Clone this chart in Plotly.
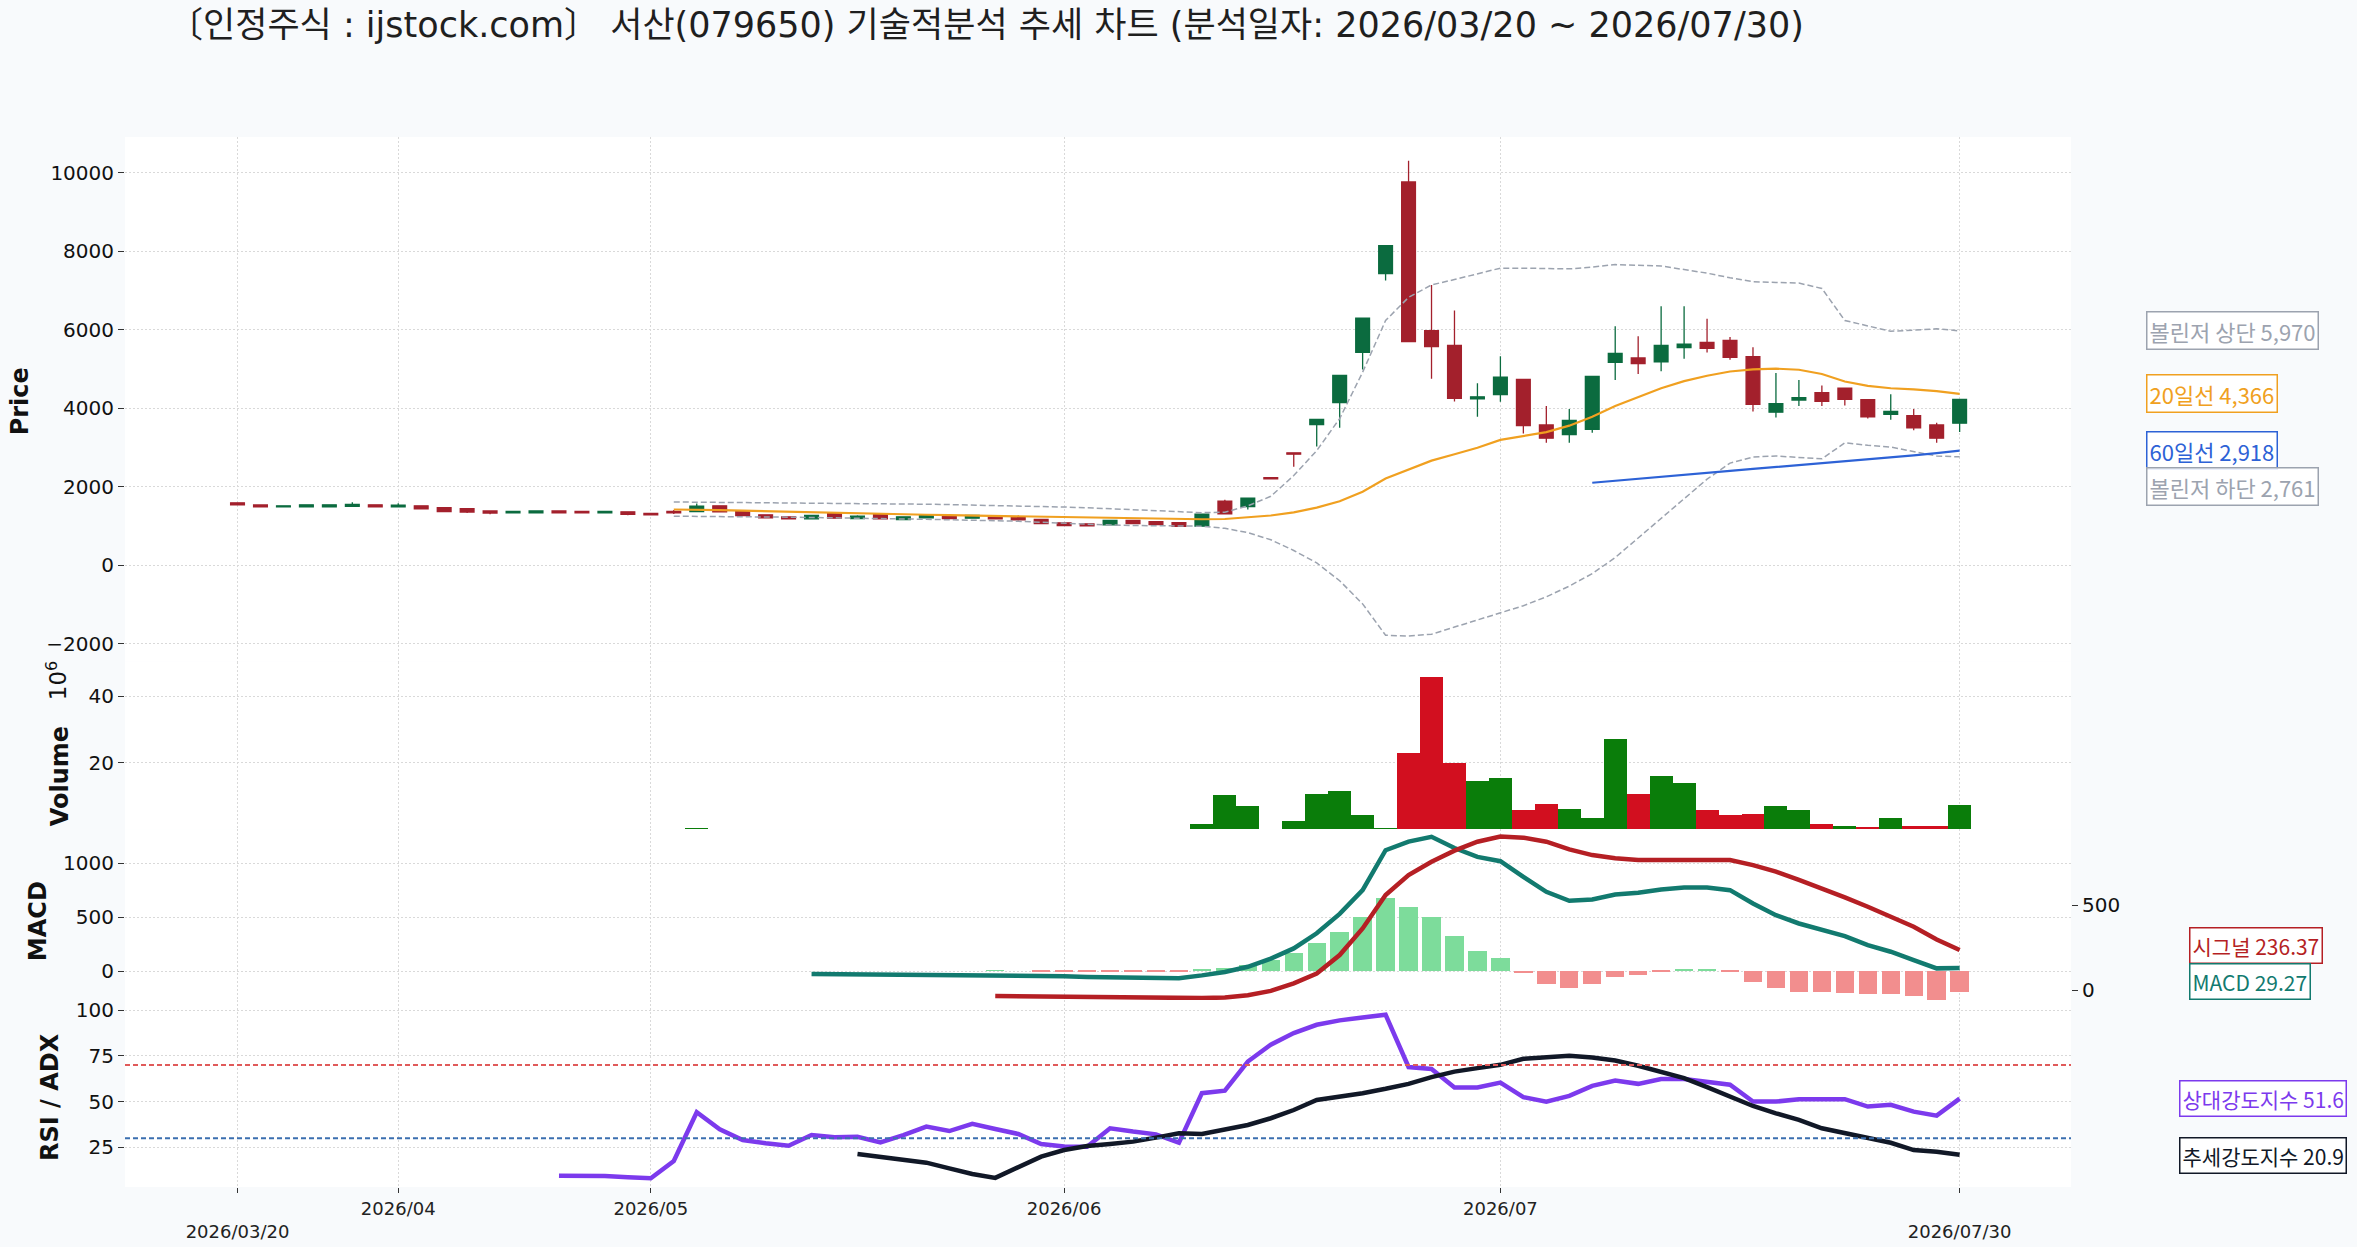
import plotly.graph_objects as go

# ---------------- data ----------------
tick_idx = [0, 7, 18, 36, 55, 75]
tick_text = ["<br>2026/03/20", "2026/04", "2026/05", "2026/06", "2026/07", "<br>2026/07/30"]

open_ = [1590,1535,1490,1490,1490,1500,1540,1490,1515,1465,
         1440,1385,1335,1335,1385,1370,1335,1360,1320,1372,
         1370,1515,1387,1285,1234,1183,1319,1191,1294,1166,
         1209,1242,1200,1251,1234,1166,1081,1055,1030,1140,
         1110,1085,996,1630,1494,2230,2865,3582,4145,5425,
         7431,9764,5978,5597,4236,4345,4735,3573,3328,3464,
         5171,5280,5180,5543,5679,5724,5316,3900,4208,4399,
         4508,4217,3845,3809,3573,3618]
high = [1600,1540,1520,1545,1545,1605,1545,1580,1520,1470,
        1445,1390,1372,1390,1390,1375,1372,1365,1325,1405,
        1575,1520,1392,1290,1240,1272,1325,1276,1300,1238,
        1272,1247,1272,1256,1268,1170,1086,1060,1145,1145,
        1115,1090,1315,1666,1715,2235,2870,3720,4840,6300,
        8140,10300,7140,6487,4635,5325,4740,4054,3981,4810,
        6087,5833,6595,6595,6278,5815,5552,4898,4717,4581,
        4512,4222,4354,3981,3627,4230]
low = [1535,1485,1485,1485,1485,1495,1485,1485,1435,1360,
       1330,1300,1330,1330,1330,1330,1330,1275,1265,1305,
       1365,1355,1265,1205,1180,1178,1195,1186,1178,1160,
       1204,1186,1195,1178,1132,1060,1008,1000,1025,1060,
       1028,985,990,1300,1422,2195,2510,3028,3500,4989,
       7250,5690,4753,4172,3782,4163,3355,3119,3119,3373,
       4717,4871,4944,5261,5416,5234,3918,3763,4054,4054,
       4072,3736,3709,3437,3119,3391]
close = [1540,1490,1515,1540,1540,1550,1490,1530,1440,1365,
         1355,1330,1370,1385,1335,1335,1370,1300,1285,1338,
         1505,1362,1268,1209,1183,1268,1200,1251,1183,1234,
         1268,1191,1268,1183,1157,1064,1013,1004,1140,1064,
         1035,992,1300,1310,1712,2200,2830,3718,4835,6296,
         8139,5697,5570,4254,4290,4789,3555,3237,3691,4807,
         5398,5134,5597,5633,5524,5298,4099,4117,4272,4172,
         4226,3782,3918,3500,3237,4226]
volume_m = [0.05,0.04,0.03,0.04,0.03,0.05,0.04,0.04,0.06,0.08,
            0.07,0.06,0.04,0.05,0.04,0.03,0.04,0.06,0.05,0.08,
            0.30,0.12,0.09,0.07,0.06,0.08,0.07,0.06,0.07,0.05,
            0.06,0.05,0.06,0.05,0.07,0.09,0.08,0.07,0.12,0.08,
            0.07,0.09,1.6,10.5,7.1,0.15,2.5,10.8,11.7,4.4,
            0.3,22.9,46.0,19.9,14.5,15.4,5.7,7.8,6.0,3.5,
            27.2,10.8,16.0,14.1,5.7,4.4,4.7,7.2,5.7,1.7,
            1.1,0.8,3.5,1.1,1.1,7.5]

ma20 = [None]*19 + [1420,1418,1405,1390,1375,1360,1346,1334,1322,1310,
                    1298,1287,1276,1266,1256,1246,1236,1225,1214,1205,
                    1196,1188,1178,1172,1178,1213,1267,1349,1467,1630,
                    1875,2211,2447,2665,2828,2992,3192,3300,3391,3555,
                    3782,4054,4281,4508,4690,4826,4935,4989,5007,4980,
                    4871,4680,4571,4508,4481,4435,4366]
bb_upper = [None]*19 + [1612,1608,1605,1602,1598,1594,1590,1584,1578,1572,
                        1565,1555,1545,1535,1525,1513,1500,1483,1465,1443,
                        1420,1393,1368,1340,1352,1512,1757,2284,2919,3736,
                        4917,6233,6823,7140,7277,7413,7567,7567,7549,7549,
                        7594,7658,7640,7622,7531,7440,7322,7222,7204,7186,
                        7050,6233,6096,5960,5988,6024,5970]
bb_lower = [None]*19 + [1250,1248,1245,1240,1233,1225,1218,1212,1205,1195,
                        1182,1170,1160,1150,1140,1122,1095,1068,1040,1025,
                        1013,1008,1000,995,940,831,650,377,60,-394,
                        -984,-1783,-1801,-1756,-1574,-1393,-1211,-1030,-803,-530,
                        -213,196,695,1194,1694,2193,2601,2756,2783,2738,
                        2710,3119,3055,3010,2892,2783,2761]
ma60 = [None]*59 + [2102,2155,2205,2256,2306,2356,2405,2453,2500,2548,
                    2596,2645,2695,2747,2800,2858,2918]

macd = [None]*25 + [-28,-30,-32,-33,-34,-35,-36,-35,-35,-37,
                    -42,-48,-54,-58,-62,-65,-66,-40,-8,40,
                    115,210,350,530,750,1120,1200,1244,1140,1058,
                    1018,873,734,651,663,710,725,756,775,775,
                    750,627,518,441,380,324,241,179,102,25,
                    29.27]
signal = [None]*33 + [-35,-37,-39,-41,-43,-45,-46,-47,-48,-47,
                      -44,-30,-5,40,98,207,364,561,679,758,
                      823,876,906,900,876,831,797,778,768,768,
                      772,772,768,738,699,650,600,547,492,433,
                      374,299,236.37]
hist = [None]*33 + [3,0,-2,-6,-8,-8,-3,-2,-6,9,
                    25,56,102,170,262,364,503,679,596,497,
                    324,185,123,-22,-123,-160,-123,-59,-34,-3,
                    15,15,-9,-99,-160,-191,-200,-207,-216,-216,
                    -231,-275,-200]
rsi = [None]*14 + [9.5,9.5,9.3,8.6,8.1,17.5,44.2,34.9,29.0,27.2,
                   25.9,31.7,30.5,30.8,27.7,31.7,36.3,33.9,37.8,35.0,
                   32.3,26.8,25.5,25.3,35.4,33.6,32.1,27.5,54.6,56.0,
                   71.9,81.1,87.5,92.0,94.4,96.0,97.5,68.9,67.8,57.7,
                   57.7,60.4,52.4,50.0,53.1,58.6,61.5,59.7,62.3,62.3,
                   61.0,59.2,50.0,50.0,51.3,51.0,51.3,47.3,48.2,44.5,
                   42.3,51.6]
adx = [None]*27 + [21.3,19.9,18.4,16.6,13.5,10.4,8.3,14.4,19.9,23.5,
                   25.7,26.8,28.1,30.3,32.7,32.3,34.5,37.2,40.9,45.4,
                   50.9,52.7,54.6,57.0,59.7,63.4,66.4,68.3,70.1,73.4,
                   74.3,75.0,74.1,72.5,69.6,66.4,62.8,57.9,52.7,47.6,
                   43.6,40.0,35.4,32.7,30.3,27.5,23.5,22.6,20.9]

rsi_levels = [70, 30]
title_text = "〔인정주식 : ijstock.com〕 서산(079650) 기술적분석 추세 차트 (분석일자: 2026/03/20 ~ 2026/07/30)"

# ---------------- styling / geometry ----------------
W, H = 2357, 1247
PL, PR, PT, PB = 125, 2071, 136.5, 1187

def px_x(x):
    return (x - PL) / (PR - PL)

def px_y(y):
    return (PB - y) / (PB - PT)

def dom(top, bot):
    return [px_y(bot), px_y(top)]

GREEN_C = "#0b6b3f"
RED_C = "#a3202c"
VOL_G = "rgba(10,125,10,0.999)"
VOL_R = "rgba(210,15,31,0.999)"
HIST_G = "#7ddc9b"
HIST_R = "#f28e8e"
C_MA20 = "#f0a020"
C_MA60 = "#2d62d6"
C_BB = "#9ca3af"
C_MACD = "#127a6f"
C_SIG = "#b51f24"
C_RSI = "#7c3aed"
C_ADX = "#111827"
FONT = "DejaVu Sans"
KFONT = "Noto Sans CJK KR"

x = list(range(len(close)))
vol_colors = [VOL_G if (i == 0 or close[i] >= close[i - 1]) else VOL_R for i in x]
hist_colors = [HIST_R if (h is not None and h < 0) else HIST_G for h in hist]

fig = go.Figure()
fig.add_trace(go.Candlestick(
    x=x, open=open_, high=high, low=low, close=close,
    increasing=dict(line=dict(color=GREEN_C, width=1.3), fillcolor=GREEN_C),
    decreasing=dict(line=dict(color=RED_C, width=1.3), fillcolor=RED_C),
    whiskerwidth=0, xaxis="x", yaxis="y", showlegend=False))
for arr in (bb_upper, bb_lower):
    fig.add_trace(go.Scatter(x=x, y=arr, mode="lines", xaxis="x", yaxis="y",
                             line=dict(color=C_BB, width=1.5, dash="6px,3px"), showlegend=False))
fig.add_trace(go.Scatter(x=x, y=ma20, mode="lines", xaxis="x", yaxis="y",
                         line=dict(color=C_MA20, width=2.2), showlegend=False))
fig.add_trace(go.Scatter(x=x, y=ma60, mode="lines", xaxis="x", yaxis="y",
                         line=dict(color=C_MA60, width=2.2), showlegend=False))

fig.add_trace(go.Bar(x=x, y=volume_m, xaxis="x2", yaxis="y2", width=1.0,
                     marker=dict(color=vol_colors, line=dict(width=0)),
                     showlegend=False))

fig.add_trace(go.Bar(x=x, y=hist, xaxis="x3", yaxis="y3", width=0.8,
                     marker=dict(color=hist_colors, line=dict(width=0)), showlegend=False))
fig.add_trace(go.Scatter(x=x, y=macd, mode="lines", xaxis="x3", yaxis="y3",
                         line=dict(color=C_MACD, width=4.5), showlegend=False))
fig.add_trace(go.Scatter(x=x, y=signal, mode="lines", xaxis="x3", yaxis="y4",
                         line=dict(color=C_SIG, width=4.5), showlegend=False))

fig.add_trace(go.Scatter(x=x, y=rsi, mode="lines", xaxis="x4", yaxis="y5",
                         line=dict(color=C_RSI, width=4.5), showlegend=False))
fig.add_trace(go.Scatter(x=x, y=adx, mode="lines", xaxis="x4", yaxis="y5",
                         line=dict(color=C_ADX, width=4.5), showlegend=False))

GRID = dict(showgrid=True, gridcolor="#d9d9d9", gridwidth=1, griddash="2px,2px",
            zeroline=False, showline=False, automargin=False)
XR = [-4.9, 79.85]

def xax(anchor, labels=False):
    d = dict(domain=[0, 1], range=XR, anchor=anchor, tickmode="array", tickvals=tick_idx,
             ticktext=tick_text, showticklabels=labels, ticks="outside" if labels else "",
             ticklen=5, tickcolor="#333", tickfont=dict(family=FONT, size=18, color="#222"), **GRID)
    return d

def yax(domain, rng, vals, texts=None, **kw):
    d = dict(domain=domain, range=rng, tickmode="array", tickvals=vals,
             ticktext=texts if texts else [str(v) for v in vals],
             ticks="outside", ticklen=6, tickcolor="#333", tickwidth=1.2,
             tickfont=dict(family=FONT, size=20, color="#111"), **GRID)
    d.update(kw)
    return d

price_ticks = [-2000, 0, 2000, 4000, 6000, 8000, 10000]
price_text = [("\u2212" + str(-v)) if v < 0 else str(v) for v in price_ticks]

fig.update_layout(
    width=W, height=H, autosize=False,
    margin=dict(l=PL, r=W - PR, t=PT, b=H - PB, pad=0, autoexpand=False),
    paper_bgcolor="#f8fafc", plot_bgcolor="#ffffff",
    boxgap=0.4, boxgroupgap=0, bargap=0,
    xaxis=dict(xax("y"), rangeslider=dict(visible=False)),
    xaxis2=dict(xax("y2"), matches="x"),
    xaxis3=dict(xax("y3"), matches="x"),
    xaxis4=dict(xax("y5", True), matches="x"),
    yaxis=yax(dom(PT, 661.5), [-2457, 10907], price_ticks, price_text, anchor="x"),
    yaxis2=yax(dom(661.5, 829), [0, 50.4], [20, 40], anchor="x2"),
    yaxis3=yax(dom(829, 1000), [-269, 1315], [0, 500, 1000], anchor="x3"),
    yaxis4=dict(overlaying="y3", side="right", anchor="x3", range=[-59, 950], tickmode="array",
                tickvals=[0, 500], ticktext=["0", "500"], ticks="outside", ticklen=6, tickcolor="#333",
                tickfont=dict(family=FONT, size=20, color="#111"), showgrid=False, zeroline=False,
                showline=False, automargin=False),
    yaxis5=yax(dom(1000, PB), [3.3, 105.5], [25, 50, 75, 100], anchor="x4"),
    title=dict(text=title_text, x=168 / W, xref="container", xanchor="left",
               y=1 - 25 / H, yref="container", yanchor="middle",
               font=dict(family="DejaVu Sans, Noto Sans CJK KR", size=35, color="#1f1f1f")),
    showlegend=False,
)

shapes = []
for lvl, col in zip(rsi_levels, ["#e05a5a", "#3b6fb0"]):
    shapes.append(dict(type="line", xref="paper", x0=0, x1=1, yref="y5", y0=lvl, y1=lvl,
                       line=dict(color=col, width=2, dash="5px,3px"), layer="above"))
fig.update_layout(shapes=shapes)

ann = []
def axis_title(text, xc, yc, size=24):
    ann.append(dict(text=text, x=px_x(xc), y=px_y(yc), xref="paper", yref="paper",
                    textangle=-90, showarrow=False, xanchor="center", yanchor="middle",
                    font=dict(family=FONT, size=size, color="#111")))

axis_title("<b>Price</b>", 20, 401)
axis_title("<b>Volume</b>", 60, 776)
axis_title("10<sup>6</sup>", 57, 680, size=23)
axis_title("<b>MACD</b>", 38, 921)
axis_title("<b>RSI / ADX</b>", 50, 1097)

def tag(text, xl, yc, col, size):
    ann.append(dict(text=text, x=px_x(xl), y=px_y(yc), xref="paper", yref="paper",
                    showarrow=False, xanchor="left", yanchor="middle",
                    font=dict(family=KFONT, size=size, color=col),
                    bgcolor="rgba(255,255,255,0.9)", bordercolor=col, borderwidth=1.5, borderpad=2))

tag(f"볼린저 상단 {bb_upper[-1]:,.0f}", 2146, 330, C_BB, 22)
tag(f"20일선 {ma20[-1]:,.0f}", 2146, 393, C_MA20, 22)
tag(f"60일선 {ma60[-1]:,.0f}", 2146, 450.5, C_MA60, 22)
tag(f"볼린저 하단 {bb_lower[-1]:,.0f}", 2146, 486, C_BB, 22)
tag(f"시그널 {signal[-1]:.2f}", 2189, 945, C_SIG, 21)
tag(f"MACD {macd[-1]:.2f}", 2189, 981, C_MACD, 21)
tag(f"상대강도지수 {rsi[-1]:.1f}", 2179, 1098.5, C_RSI, 21)
tag(f"추세강도지수 {adx[-1]:.1f}", 2179, 1155, C_ADX, 21)

fig.update_layout(annotations=ann)
fig.write_html("out.html", config={"displayModeBar": False},
               post_script="document.body.style.margin='0';document.body.style.padding='0';")
